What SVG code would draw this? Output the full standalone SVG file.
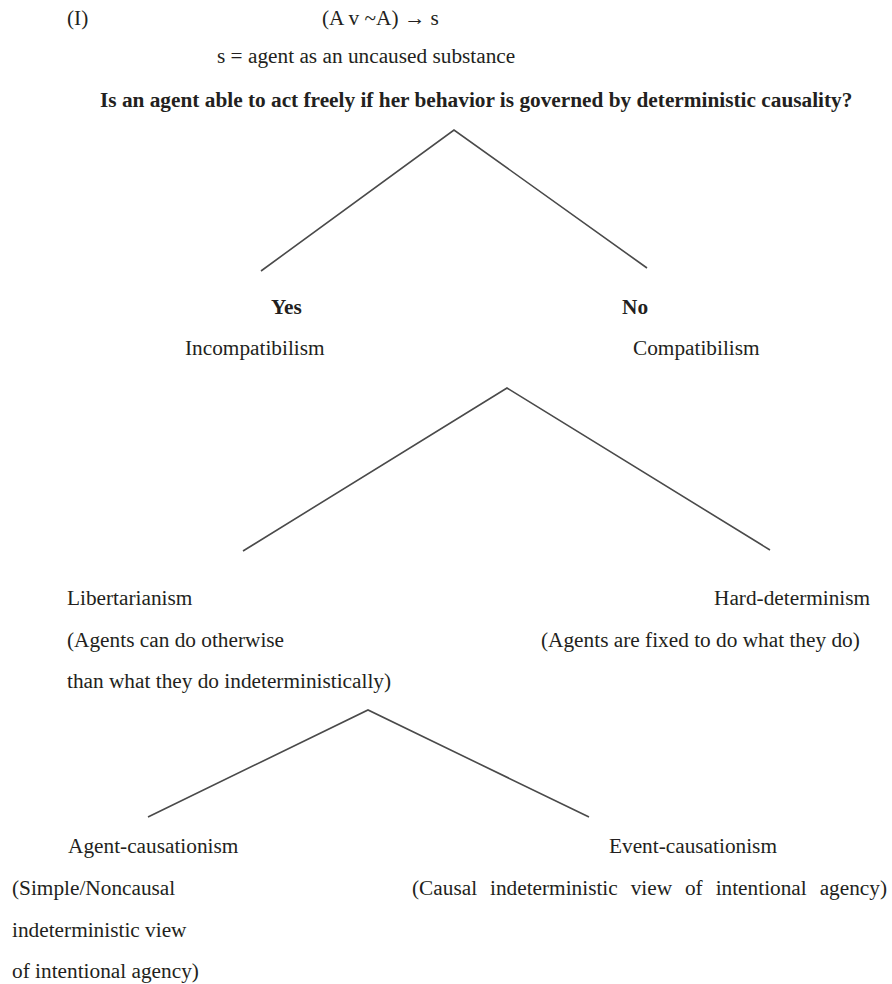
<svg xmlns="http://www.w3.org/2000/svg" width="892" height="984" viewBox="0 0 892 984">
<style>
  text { font-family: "Liberation Serif", "Times New Roman", serif; font-size: 21.3px; fill: #231f20; }
  .b { font-weight: bold; }
  .conn { fill: none; stroke: #4a4a4a; stroke-width: 1.6; stroke-linejoin: miter; }
</style>
<rect width="892" height="984" fill="#ffffff"/>
<g id="header">
  <text x="67" y="25">(I)</text>
  <text x="322" y="25">(A v ~A) → s</text>
  <text x="217" y="63">s = agent as an uncaused substance</text>
</g>
<g id="question">
  <text class="b" x="100" y="107">Is an agent able to act freely if her behavior is governed by deterministic causality?</text>
</g>
<g id="connectors">
  <polyline class="conn" points="261,271 454,130 647,268"/>
  <polyline class="conn" points="243,551 507,388 770,550"/>
  <polyline class="conn" points="148,817 368,710 589,817"/>
</g>
<g id="yes">
  <text class="b" x="271" y="314">Yes</text>
  <text x="185" y="355">Incompatibilism</text>
</g>
<g id="no">
  <text class="b" x="622" y="314">No</text>
  <text x="633" y="355">Compatibilism</text>
</g>
<g id="libertarianism">
  <text x="67" y="605">Libertarianism</text>
  <text x="67" y="647">(Agents can do otherwise</text>
  <text x="67" y="688">than what they do indeterministically)</text>
</g>
<g id="hard-determinism">
  <text x="714" y="605">Hard-determinism</text>
  <text x="541" y="647">(Agents are fixed to do what they do)</text>
</g>
<g id="agent-causationism">
  <text x="68" y="853">Agent-causationism</text>
  <text x="12" y="895">(Simple/Noncausal</text>
  <text x="12" y="937">indeterministic view</text>
  <text x="12" y="978">of intentional agency)</text>
</g>
<g id="event-causationism">
  <text x="609" y="853">Event-causationism</text>
  <text x="412" y="895" word-spacing="7.6">(Causal indeterministic view of intentional agency)</text>
</g>
</svg>
